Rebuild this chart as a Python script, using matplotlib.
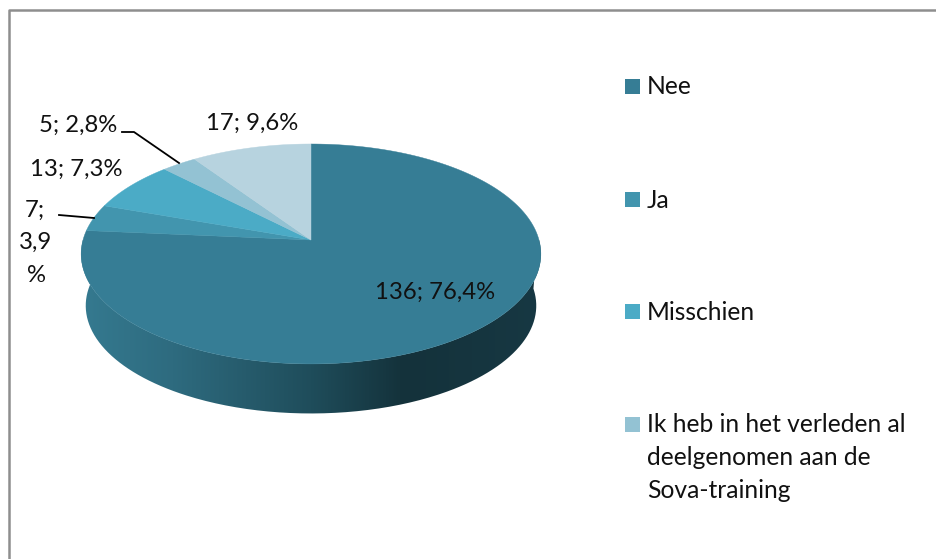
import matplotlib
matplotlib.use('Agg')
import matplotlib.pyplot as plt
from matplotlib.colors import LinearSegmentedColormap
from matplotlib.path import Path
from matplotlib.patches import PathPatch
import numpy as np

plt.rcParams['font.family'] = ['Lato', 'DejaVu Sans']

labels = ['Nee', 'Ja', 'Misschien', 'Ik heb in het verleden al\ndeelgenomen aan de\nSova-training', '']
values = [136, 7, 13, 5, 17]
percents = ['76,4%', '3,9\n%', '7,3%', '2,8%', '9,6%']
colors = ['#367D95', '#4295AE', '#4BABC6', '#93C2D3', '#B7D3DF']
legend_colors = colors[:4]

W, H = 936, 559
fig = plt.figure(figsize=(W / 100, H / 100), dpi=100)
ax = fig.add_axes([0, 0, 1, 1])
ax.set_xlim(0, W)
ax.set_ylim(H, 0)
ax.axis('off')


# the tilted disc is a circle seen in perspective
def project(theta, scale=1.0, dy=0):
    k = 0.127
    u = np.sin(theta)
    v = np.cos(theta)
    d = 1 + k * v
    return 311 + 228 * scale * u / d, 240 + dy - 108.2 * scale * v / d


# frame, only top and left are inside the picture
ax.plot([9, 9, W], [H, 10, 10], color='#8E8E8E', lw=1.8)

# side wall, gradient runs left to right and is clipped to the wall shape
t = np.linspace(np.pi / 2 * 0.98, np.pi * 1.53, 300)
x1, y1 = project(t)
x2, y2 = project(t, 0.98, 52)
wall = np.column_stack([np.r_[x1, x2[::-1]], np.r_[y1, y2[::-1]]])
wall_patch = PathPatch(Path(np.r_[wall, wall[:1]]), fc='none', ec='none')
ax.add_patch(wall_patch)
cmap = LinearSegmentedColormap.from_list('wall', [(0, '#357A90'), (0.2, '#2E6B7F'), (0.5, '#1F4D5B'),
                                                  (0.7, '#14323B'), (1, '#173843')])
grad = np.linspace(0, 1, 256).reshape(1, -1)
im = ax.imshow(grad, cmap=cmap, extent=(80, 542, 420, 240), aspect='auto', zorder=1)
im.set_clip_path(wall_patch)
ax.set_xlim(0, W)
ax.set_ylim(H, 0)

# top of the pie, clockwise from 12 o'clock
edges = np.cumsum([0] + values) / sum(values) * 2 * np.pi
for i in range(len(values)):
    t = np.linspace(edges[i], edges[i + 1], 200)
    x, y = project(t)
    ax.fill(np.r_[311, x], np.r_[240, y], color=colors[i], lw=0.3, zorder=2)

# data labels
fs = 17.2
tc = '#111111'
ax.text(435, 292, f'{values[0]}; {percents[0]}', fontsize=fs, ha='center', va='center', color=tc, zorder=3)
ax.text(252, 123, f'{values[4]}; {percents[4]}', fontsize=fs, ha='center', va='center', color=tc, zorder=3)
ax.text(78, 125, f'{values[3]}; {percents[3]}', fontsize=fs, ha='center', va='center', color=tc, zorder=3)
ax.text(76, 169, f'{values[2]}; {percents[2]}', fontsize=fs, ha='center', va='center', color=tc, zorder=3)
ax.text(35, 210, f'{values[1]};', fontsize=fs, ha='center', va='center', color=tc, zorder=3)
ax.text(36, 242, '3,9', fontsize=fs, ha='center', va='center', color=tc, zorder=3)
ax.text(36, 276, '%', fontsize=fs, ha='center', va='center', color=tc, zorder=3)

# leader lines
ax.plot([122, 134, 179], [132, 132, 163], color='black', lw=1.3, zorder=3)
ax.plot([59, 94], [215, 218], color='black', lw=1.3, zorder=3)

# legend
leg_y = [86.5, 199.5, 311.5, 424.5]
for name, c, y in zip(labels, legend_colors, leg_y):
    ax.add_patch(plt.Rectangle((625, y - 7.5), 15, 15, color=c, lw=0, zorder=3))
    ax.text(647, y - 11, name, fontsize=17.7, ha='left', va='top', color=tc, linespacing=1.5, zorder=3)

fig.savefig('out.png', dpi=100)
